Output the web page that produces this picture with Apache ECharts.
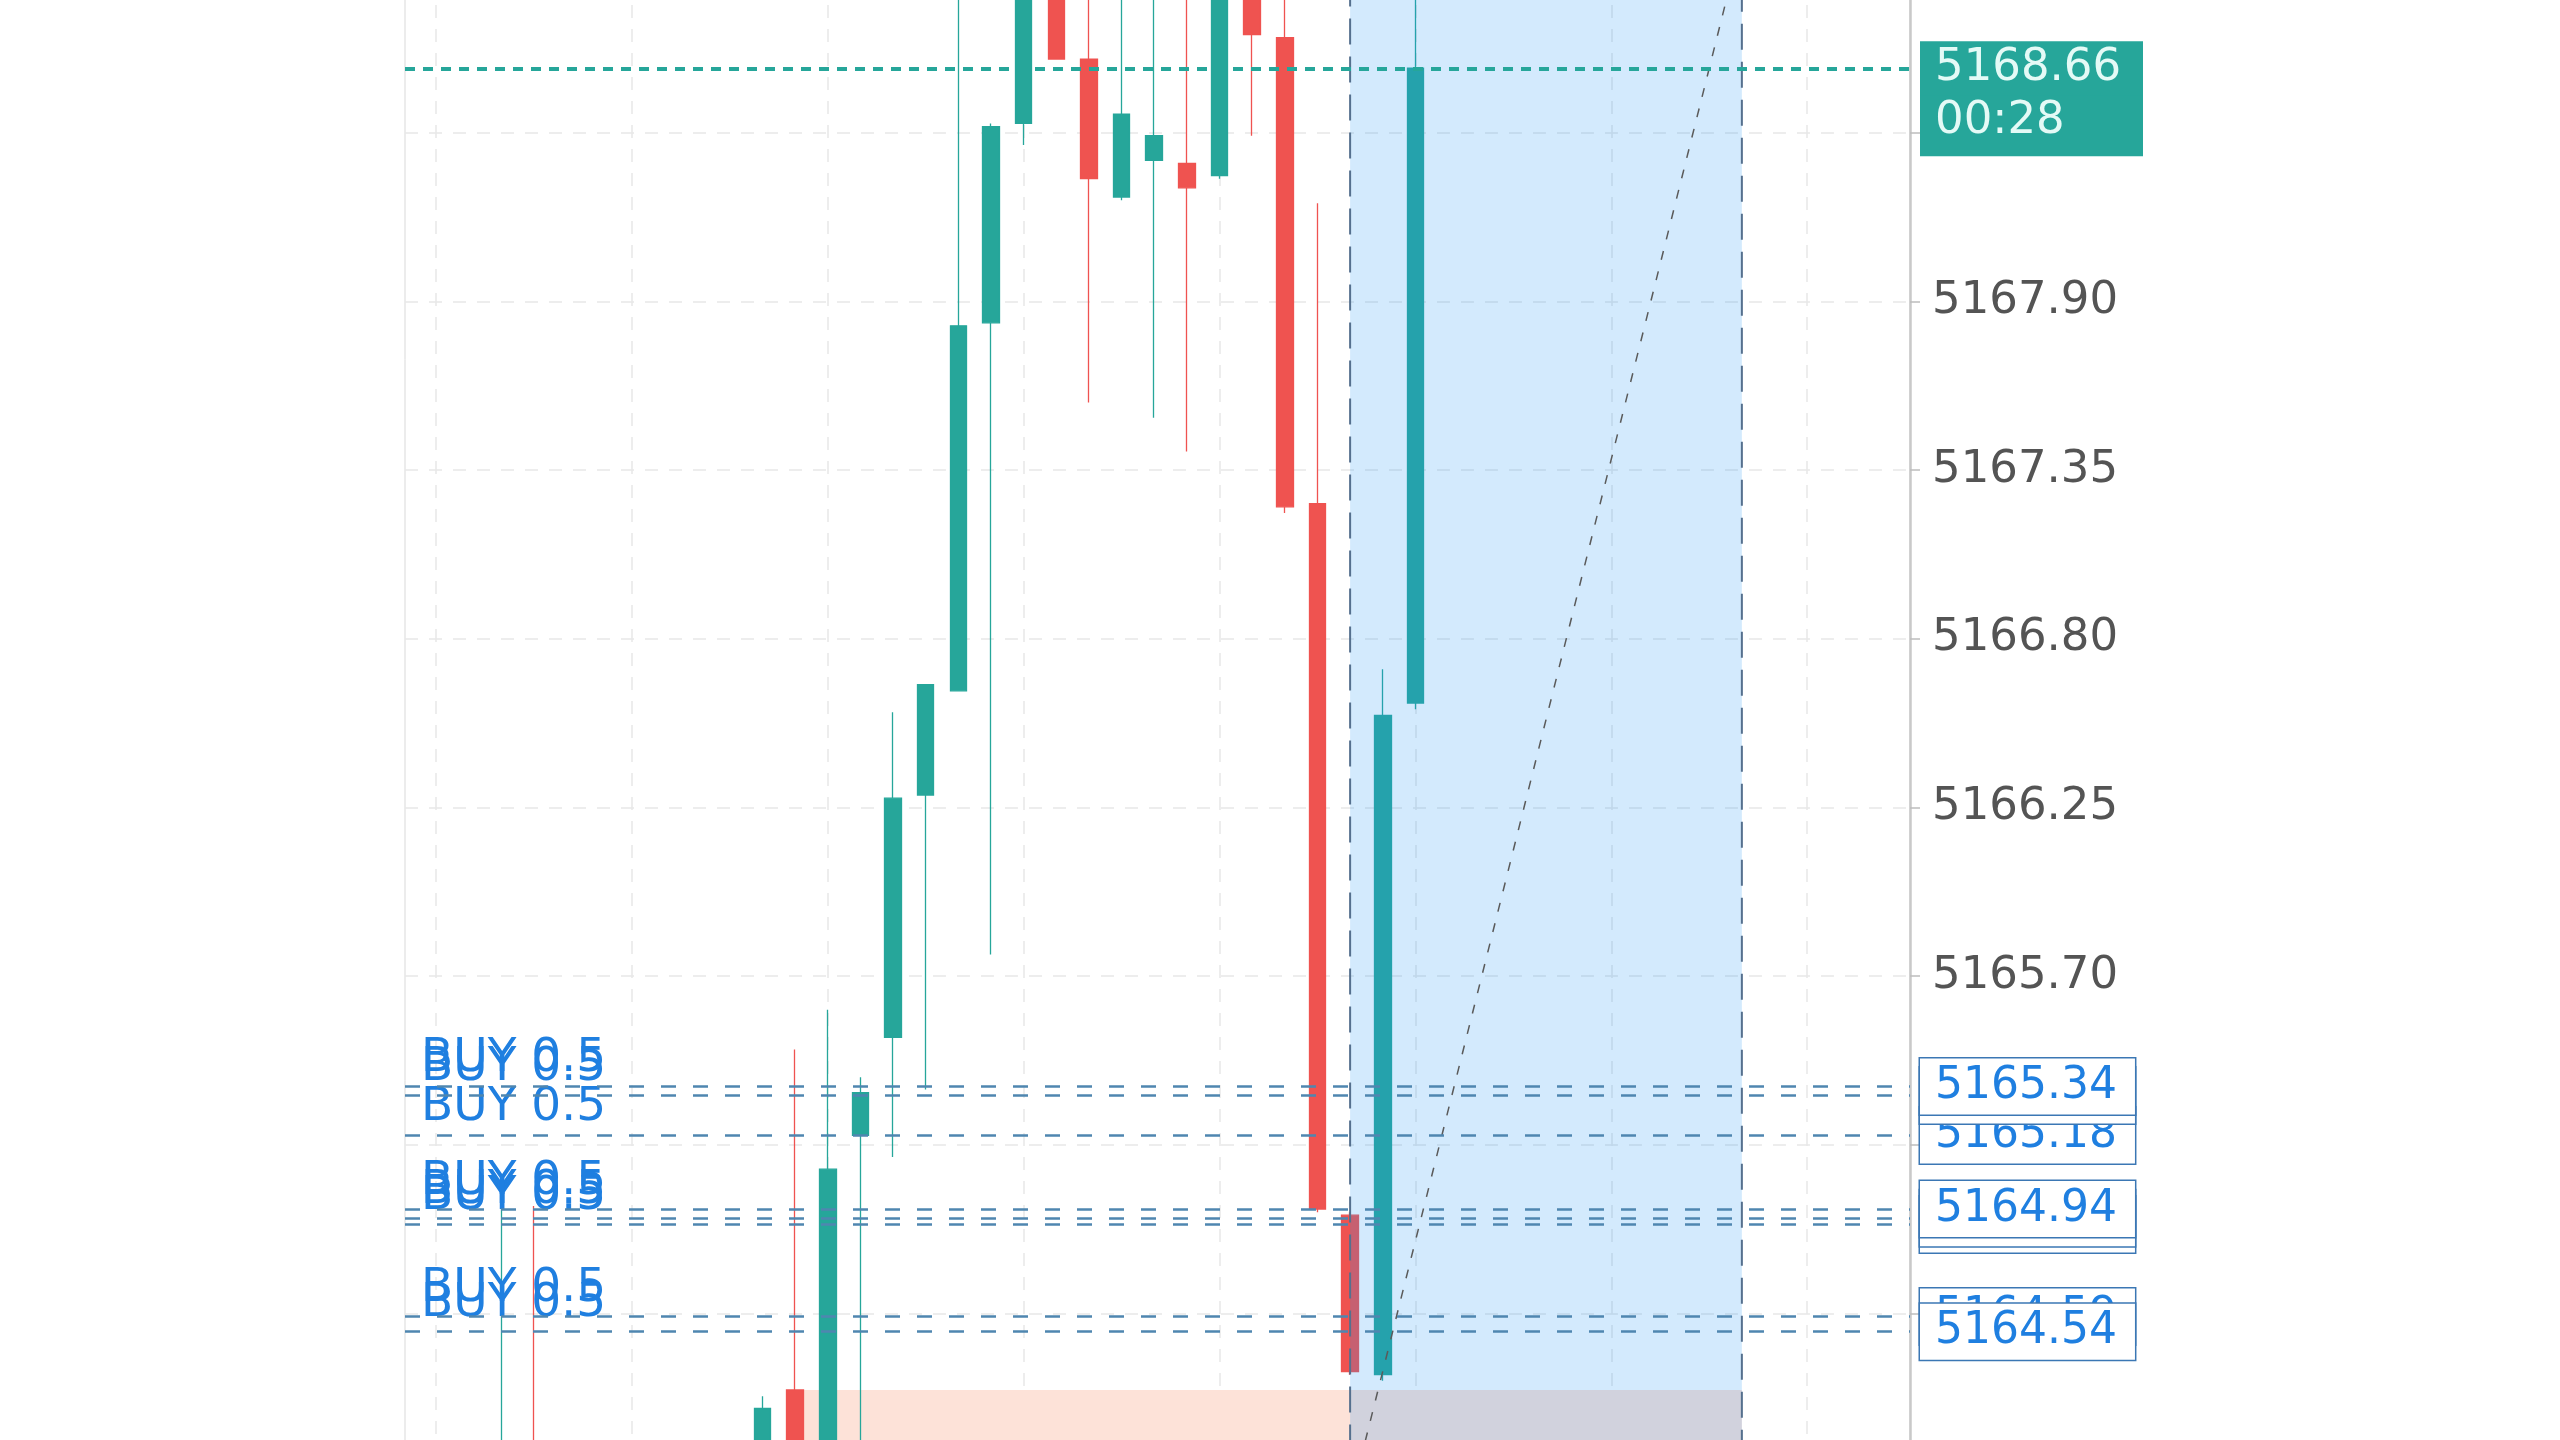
<!DOCTYPE html>
<html>
<head>
<meta charset="utf-8">
<title>Chart</title>
<script src="https://cdn.jsdelivr.net/npm/echarts@6/dist/echarts.min.js"></script>
<style>
  html, body { margin: 0; padding: 0; background: #fff; }
  #chart { width: 2560px; height: 1440px; }
</style>
</head>
<body>
<div id="chart"></div>
<script>
// candle slots (bar index) and OHLC values
const slots  = [2, 3, 10, 11, 12, 13, 14, 15, 16, 17, 18, 19, 20, 21, 22, 23, 24, 25, 26, 27, 28, 29, 30];
const opens  = [5163.70, 5163.95, 5164.00, 5164.35, 5164.05, 5165.18, 5165.50, 5166.29, 5166.63, 5167.83, 5168.48, 5169.02, 5168.69, 5168.24, 5168.36, 5168.35, 5168.31, 5169.00, 5168.76, 5167.24, 5164.92, 5164.40, 5166.59];
const closes = [5163.95, 5163.80, 5164.29, 5164.05, 5165.07, 5165.32, 5166.28, 5166.65, 5167.82, 5168.47, 5169.02, 5168.69, 5168.30, 5168.51, 5168.44, 5168.27, 5169.00, 5168.77, 5167.23, 5164.94, 5164.41, 5166.55, 5168.66];
const lows   = [5163.60, 5163.70, 5163.95, 5164.00, 5164.00, 5164.10, 5165.11, 5165.33, 5166.63, 5165.77, 5168.41, 5168.69, 5167.57, 5168.23, 5167.52, 5167.41, 5168.30, 5168.44, 5167.21, 5164.93, 5164.40, 5164.38, 5166.57];
const highs  = [5164.95, 5164.95, 5164.33, 5165.46, 5165.59, 5165.37, 5166.56, 5166.65, 5169.10, 5168.48, 5169.15, 5169.10, 5169.05, 5169.08, 5169.00, 5169.12, 5169.05, 5169.10, 5169.00, 5168.22, 5164.93, 5166.70, 5169.05];

// price scale
const yMin = 5164.05;
const yMax = 5169.00;
const yStep = 0.55;

// vertical grid every 6 bars
const gridSlots = [0, 6, 12, 18, 24, 30, 36, 42];

// open buy orders (drawing order)
const buyPrices = [5165.18, 5165.31, 5165.34, 5164.89, 5164.91, 5164.94, 5164.59, 5164.54];
const buyText = 'BUY 0.5';

// last price
const lastPrice = 5168.66;
const countdown = '00:28';

// drawings: range box, its diagonal, stop zone
const rangeSlots = [28, 40];
const rangePrices = [5163.99, 5169.09];
const diagSlots = [28.15, 39.8];
const diagPrices = [5164.05, 5169.00];
const stopSlots = [11, 40];
const stopPrices = [5164.35, 5163.90];

const FONT = 'DejaVu Sans';
const UP = '#26a69a';
const DOWN = '#ef5350';

const candles = slots.map((s, i) => [s, opens[i], closes[i], lows[i], highs[i]]);

const myChart = echarts.init(document.getElementById('chart'));

const option = {
    animation: false,
    backgroundColor: '#ffffff',
    grid: {
        left: 405, right: 650, top: -36, bottom: -42,
        show: true, borderColor: '#d9d9d9', borderWidth: 1,
        containLabel: false, outerBoundsMode: 'none'
    },
    xAxis: {
        type: 'value', min: -0.95, max: 45.15, show: false
    },
    yAxis: {
        type: 'value', position: 'right',
        min: yMin, max: yMax, interval: yStep,
        axisLine: { show: true, onZero: false, lineStyle: { color: '#c9c9c9', width: 2.5 } },
        axisTick: { show: true, length: 10, lineStyle: { color: '#bdbdbd', width: 1.5 } },
        axisLabel: {
            color: '#545454', fontSize: 45, fontFamily: FONT, margin: 22,
            formatter: v => v.toFixed(2)
        },
        splitLine: { show: true, lineStyle: { color: '#e8e8e8', width: 1.5, type: [13, 11] } }
    },
    series: [
        {
            // vertical grid lines
            name: 'grid', type: 'line', data: [], silent: true,
            markLine: {
                z: 0, silent: true, symbol: 'none', label: { show: false },
                lineStyle: { color: '#e8e8e8', width: 1.5, type: [13, 11] },
                data: gridSlots.map(s => ({ xAxis: s }))
            }
        },
        {
            name: 'stop', type: 'line', data: [], silent: true,
            markArea: {
                z: 1, silent: true,
                itemStyle: { color: '#fde2d8' },
                data: [[
                    { coord: [stopSlots[0], stopPrices[0]] },
                    { coord: [stopSlots[1], stopPrices[1]] }
                ]]
            }
        },
        {
            name: 'price', type: 'candlestick', z: 3, barWidth: 17,
            data: candles,
            itemStyle: {
                color: UP, color0: DOWN,
                borderColor: UP, borderColor0: DOWN, borderWidth: 1.3
            }
        },
        {
            name: 'range', type: 'line', data: [], silent: true,
            markArea: {
                z: 4, silent: true,
                itemStyle: {
                    color: 'rgba(33,150,243,0.2)',
                    borderColor: '#55708e', borderWidth: 2, borderType: [26, 12]
                },
                data: [[
                    { coord: [rangeSlots[0], rangePrices[0]] },
                    { coord: [rangeSlots[1], rangePrices[1]] }
                ]]
            },
            markLine: {
                z: 5, silent: true, symbol: 'none', label: { show: false },
                lineStyle: { color: '#5a5a5a', width: 1.5, type: [9, 12] },
                data: [[
                    { coord: [diagSlots[0], diagPrices[0]] },
                    { coord: [diagSlots[1], diagPrices[1]] }
                ]]
            }
        },
        {
            // order tags on the left
            name: 'orderTags', type: 'line', data: [], silent: true,
            markLine: {
                z: 6, silent: true, symbol: 'none',
                lineStyle: { color: 'rgba(0,0,0,0)', width: 1 },
                label: {
                    show: true, position: 'insideStartTop', distance: [16, 4],
                    formatter: buyText,
                    color: '#1f7fe0', fontSize: 47, fontFamily: FONT
                },
                data: buyPrices.map(p => ({ yAxis: p }))
            }
        },
        {
            // order lines + price boxes on the axis
            name: 'orders', type: 'line', data: [], silent: true,
            markLine: {
                z: 7, silent: true, symbol: 'none', precision: 2,
                lineStyle: { color: '#4f86b0', width: 2.5, type: [15, 17] },
                label: {
                    show: true, position: 'end', distance: 10,
                    formatter: p => Number(p.value).toFixed(2),
                    color: '#1f7fe0', fontSize: 44, fontFamily: FONT, lineHeight: 46,
                    backgroundColor: '#ffffff', borderColor: '#3b77b4', borderWidth: 1.5,
                    padding: [5, 18, 5, 15]
                },
                data: buyPrices.map(p => ({ yAxis: p }))
            }
        },
        {
            name: 'last', type: 'line', data: [], silent: true,
            markLine: {
                z: 8, silent: true, symbol: 'none', precision: 2,
                data: [
                    {
                        yAxis: lastPrice,
                        lineStyle: { color: 'rgba(0,0,0,0)', width: 1 },
                        label: {
                            show: true, position: 'end', distance: 10, verticalAlign: 'top',
                            formatter: countdown, width: 190,
                            color: '#e4faf6', fontSize: 45, fontFamily: FONT, lineHeight: 52,
                            backgroundColor: UP, padding: [27, 18, 9, 15]
                        }
                    },
                    {
                        yAxis: lastPrice,
                        lineStyle: { color: UP, width: 4, type: [10, 8] },
                        label: {
                            show: true, position: 'end', distance: 10, verticalAlign: 'middle',
                            formatter: lastPrice.toFixed(2), width: 190,
                            color: '#e4faf6', fontSize: 45, fontFamily: FONT, lineHeight: 52,
                            backgroundColor: UP, padding: [1, 18, 1, 15]
                        }
                    }
                ]
            }
        }
    ]
};

myChart.setOption(option);
</script>
</body>
</html>
